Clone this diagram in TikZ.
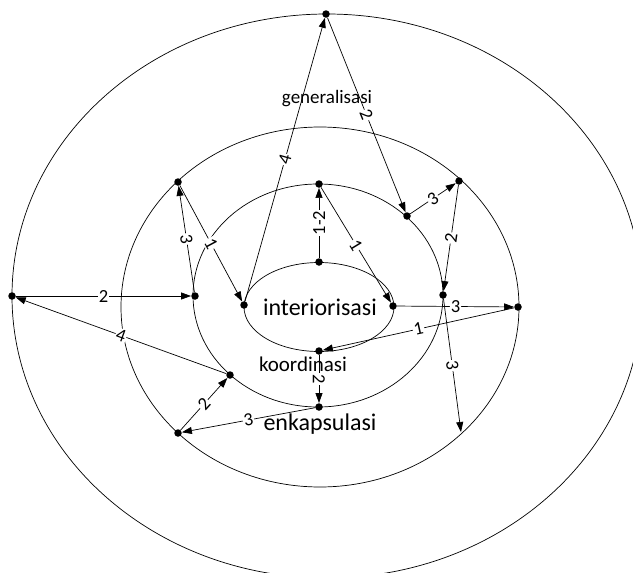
\documentclass[tikz,border=0pt]{standalone}
\usepackage{fontspec}
\setmainfont{Carlito}
\usetikzlibrary{arrows.meta}
\begin{document}
\begin{tikzpicture}[x=1pt,y=-1pt,
  dot/.style={circle,fill=black,inner sep=0pt,minimum size=7.5pt},
  arr/.style={-{Triangle[length=10pt,width=7pt]},line width=0.7pt},
  lbl/.style={fill=white,inner sep=1pt,font=\fontsize{18.5}{18.5}\selectfont},
  ring/.style={line width=0.7pt},
  ttl/.style={inner sep=0pt}]
\useasboundingbox (0,0) rectangle (633,573);
\clip (0,0) rectangle (633,573);
% rings
\draw[ring] (327,296) ellipse [x radius=315pt, y radius=282pt];
\draw[ring] (320,307) ellipse [x radius=199pt, y radius=180pt];
\draw[ring] (318,295.5) ellipse [x radius=125pt, y radius=111.5pt];
\draw[ring] (319,307) ellipse [x radius=75pt, y radius=44.5pt];
% dots
\node[dot] (A) at (326,14) {};
\node[dot] (B) at (12,296) {};
\node[dot] (C) at (178,182) {};
\node[dot] (D) at (459,181) {};
\node[dot] (E) at (195,296) {};
\node[dot] (F) at (407,216) {};
\node[dot] (G) at (319,184) {};
\node[dot] (H) at (319,262) {};
\node[dot] (I) at (244,305) {};
\node[dot] (J) at (393,306) {};
\node[dot] (K) at (518,307) {};
\node[dot] (L) at (443,295) {};
\node[dot] (M) at (319,351) {};
\node[dot] (N) at (319,407) {};
\node[dot] (O) at (230,375) {};
\node[dot] (P) at (178,433) {};
\coordinate (Q) at (461,432);
% texts
\node[ttl,font=\fontsize{19}{19}\selectfont] (gen) at (327,99) {generalisasi};
\node[ttl,font=\fontsize{24}{24}\selectfont] (int) at (320,307) {interiorisasi};
\node[ttl,font=\fontsize{21}{21}\selectfont] (koo) at (303,364) {koordinasi};
\node[ttl,font=\fontsize{24}{24}\selectfont] (enk) at (320,424) {enkapsulasi};
% connectors
\draw[arr] (B) -- node[lbl,sloped]{2} (E);
\draw[arr] (E) -- node[lbl,sloped]{3} (C);
\draw[arr] (C) -- node[lbl,sloped]{1} (I);
\draw[arr] (I) -- node[lbl,sloped]{4} (A);
\draw[arr] (A) -- node[lbl,sloped]{2} (F);
\draw[arr] (F) -- node[lbl,sloped]{3} (D);
\draw[arr] (D) -- node[lbl,sloped]{2} (L);
\draw[arr] (L) -- node[lbl,sloped]{3} (Q);
\draw[arr] (J) -- node[lbl,sloped]{3} (K);
\draw[arr] (K) -- node[lbl,sloped]{1} (M);
\draw[arr] (M) -- node[lbl,rotate=-90]{2} (N);
\draw[arr] (N) -- node[lbl,sloped]{3} (P);
\draw[arr] (P) -- node[lbl,sloped]{2} (O);
\draw[arr] (O) -- node[lbl,sloped]{4} (B);
\draw[arr] (H) -- node[lbl,rotate=90]{1-2} (G);
\draw[arr] (G) -- node[lbl,sloped]{1} (J);
\end{tikzpicture}
\end{document}
